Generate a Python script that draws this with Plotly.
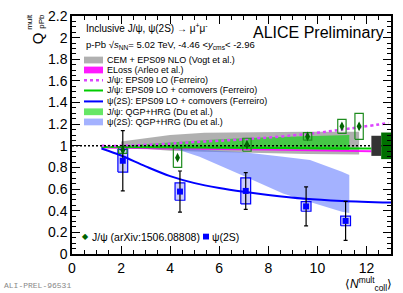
import plotly.graph_objects as go

# ---------------- data ----------------
jpsi_x = [2.07, 4.30, 7.13, 9.60, 11.00, 11.70]
jpsi_y = [0.96, 0.89, 1.01, 1.087, 1.18, 1.18]
jpsi_stat = [0.02, 0.02, 0.02, 0.02, 0.025, 0.03]
jpsi_sys = [0.03, 0.09, 0.06, 0.035, 0.065, 0.12]

psi_x = [2.07, 4.40, 7.08, 9.54, 11.15]
psi_y = [0.862, 0.577, 0.583, 0.44, 0.306]
psi_stat = [0.278, 0.19, 0.17, 0.18, 0.18]
psi_sys = [0.105, 0.08, 0.12, 0.045, 0.045]

# models
cem_x = [2.0, 3.0, 4.0, 5.4, 7.0, 9.6, 11.7]
cem_hi = [1.04, 1.07, 1.10, 1.12, 1.125, 1.13, 1.13]
cem_lo = [0.99, 0.97, 0.955, 0.945, 0.935, 0.925, 0.92]

eloss_x = [1.2, 4.0, 8.0, 12.2]
eloss_hi = [0.99, 0.982, 0.975, 0.96]
eloss_lo = [0.975, 0.965, 0.957, 0.94]

eps_x = [1.2, 2.0, 4.0, 5.0, 7.0, 9.6, 11.0, 12.9]
eps_y = [1.0, 1.0, 1.02, 1.035, 1.06, 1.11, 1.15, 1.21]

jcomov_x = [1.2, 4.0, 8.0, 12.2]
jcomov_y = [0.988, 0.985, 0.98, 0.975]

pcomov_x = [1.2, 2.0, 3.0, 4.0, 5.0, 6.0, 7.0, 8.0, 9.5, 11.0, 13.0]
pcomov_y = [0.975, 0.91, 0.81, 0.72, 0.655, 0.61, 0.575, 0.545, 0.51, 0.49, 0.475]

jdu_x = [2.0, 4.0, 6.0, 8.0, 10.0, 11.3]
jdu_hi = [1.0, 1.03, 1.06, 1.08, 1.095, 1.10]
jdu_lo = [0.98, 0.975, 0.97, 0.97, 0.965, 0.96]

pdu_x = [4.3, 5.2, 7.0, 8.6, 9.7, 11.0, 11.3]
pdu_hi = [0.975, 0.965, 0.94, 0.90, 0.87, 0.76, 0.73]
pdu_lo = [0.965, 0.90, 0.72, 0.56, 0.48, 0.39, 0.38]

glob_x = [12.4, 12.8]
glob_half = [0.093, 0.123]
glob_w = 0.2

x_ticks = [0, 2, 4, 6, 8, 10, 12]
x_labels = ["0", "2", "4", "6", "8", "10", "12"]
y_ticks = [0, 0.2, 0.4, 0.6, 0.8, 1.0, 1.2, 1.4, 1.6, 1.8, 2.0, 2.2]
y_labels = ["0", "0.2", "0.4", "0.6", "0.8", "1", "1.2", "1.4", "1.6", "1.8", "2", "2.2"]

legend_labels = [
    "CEM + EPS09 NLO (Vogt et al.)",
    "ELoss (Arleo et al.)",
    "J/ψ: EPS09 LO (Ferreiro)",
    "J/ψ: EPS09 LO + comovers (Ferreiro)",
    "ψ(2S): EPS09 LO + comovers (Ferreiro)",
    "J/ψ: QGP+HRG (Du et al.)",
    "ψ(2S): QGP+HRG (Du et al.)",
]

# ---------------- styles ----------------
C_GRAY = "rgba(150,150,150,0.75)"
C_MAG = "rgba(255,0,255,0.9)"
C_DOT = "#dd44ff"
C_GLINE = "#00cc00"
C_BLINE = "#0000ff"
C_GBAND = "rgba(0,215,0,0.6)"
C_BBAND = "rgba(90,115,255,0.55)"
C_JPSI = "#006400"
C_JBOX = "#1e8c1e"

FONT = "Liberation Sans, Arial, Helvetica, sans-serif"

fig = go.Figure()


def band(x, lo, hi, color):
    fig.add_trace(go.Scatter(x=list(x) + list(x)[::-1], y=list(hi) + list(lo)[::-1],
                             fill="toself", fillcolor=color, line=dict(width=0),
                             mode="lines", hoverinfo="skip", showlegend=False))


band(cem_x, cem_lo, cem_hi, C_GRAY)
band(jdu_x, jdu_lo, jdu_hi, C_GBAND)
band(eloss_x, eloss_lo, eloss_hi, C_MAG)
band(pdu_x, pdu_lo, pdu_hi, C_BBAND)

fig.add_trace(go.Scatter(x=jcomov_x, y=jcomov_y, mode="lines",
                         line=dict(color=C_GLINE, width=2), showlegend=False))
fig.add_trace(go.Scatter(x=eps_x, y=eps_y, mode="lines", line_shape="spline",
                         line=dict(color=C_DOT, width=2.5, dash="dot"), showlegend=False))
fig.add_trace(go.Scatter(x=pcomov_x, y=pcomov_y, mode="lines", line_shape="spline",
                         line=dict(color=C_BLINE, width=2), showlegend=False))

# unity line
fig.add_trace(go.Scatter(x=[0, 13], y=[1, 1], mode="lines",
                         line=dict(color="black", width=1.5, dash="2px,2px"), showlegend=False))


def boxes(xs, ys, ss, w):
    bx, by = [], []
    for x, y, s in zip(xs, ys, ss):
        bx += [x - w, x + w, x + w, x - w, x - w, None]
        by += [y - s, y - s, y + s, y + s, y - s, None]
    return bx, by


# global uncertainty boxes
gx, gy = boxes(glob_x, [1, 1], glob_half, glob_w)
fig.add_trace(go.Scatter(x=gx[:6], y=gy[:6], fill="toself", fillcolor="#333333",
                         line=dict(width=0), mode="lines", showlegend=False))
fig.add_trace(go.Scatter(x=gx[6:], y=gy[6:], fill="toself", fillcolor="#007000",
                         line=dict(width=0), mode="lines", showlegend=False))

# systematic boxes
bx, by = boxes(psi_x, psi_y, psi_sys, 0.2)
fig.add_trace(go.Scatter(x=bx, y=by, fill="toself", fillcolor="rgba(0,0,255,0.2)",
                         line=dict(color="#0000ff", width=1.2), mode="lines", showlegend=False))
bx, by = boxes(jpsi_x, jpsi_y, jpsi_sys, 0.17)
fig.add_trace(go.Scatter(x=bx, y=by, line=dict(color=C_JBOX, width=1.2),
                         mode="lines", showlegend=False))

# points
fig.add_trace(go.Scatter(x=psi_x, y=psi_y, mode="markers",
                         marker=dict(symbol="square", size=6, color="#0000ff"),
                         error_y=dict(type="data", array=psi_stat, color="black", thickness=1.2, width=2),
                         showlegend=False))
fig.add_trace(go.Scatter(x=jpsi_x, y=jpsi_y, mode="markers",
                         marker=dict(symbol="diamond-tall", size=7, color=C_JPSI),
                         error_y=dict(type="data", array=jpsi_stat, color=C_JPSI, thickness=1, width=0),
                         showlegend=False))

# ---------------- layout ----------------
L, R, T, B = 72, 391, 8, 254
W, H = 403, 293


def px(xp):
    return (xp - L) / (R - L)


def py(yp):
    return (B - yp) / (B - T)


shapes = []
ann = []


def text(x, y, s, size, xa="left", ya="middle", color="black", family=FONT, angle=0):
    ann.append(dict(xref="paper", yref="paper", x=px(x), y=py(y), text=s,
                    xanchor=xa, yanchor=ya, showarrow=False, textangle=angle,
                    font=dict(size=size, family=family, color=color)))


leg_y = [53.5, 63.8, 74.3, 85.0, 96.3, 107.0, 117.5]
sw_x0, sw_x1 = 84, 103
sw_kind = [("band", C_GRAY), ("band", C_MAG), ("dot", C_DOT), ("line", C_GLINE),
           ("line", C_BLINE), ("band", C_GBAND), ("band", C_BBAND)]
for yy, (kind, col), lab in zip(leg_y, sw_kind, legend_labels):
    if kind == "band":
        shapes.append(dict(type="rect", xref="paper", yref="paper",
                           x0=px(sw_x0), x1=px(sw_x1), y0=py(yy + 3.5), y1=py(yy - 3.5),
                           fillcolor=col, line=dict(width=0)))
    else:
        shapes.append(dict(type="line", xref="paper", yref="paper",
                           x0=px(sw_x0), x1=px(sw_x1), y0=py(yy), y1=py(yy),
                           line=dict(color=col, width=2.5 if kind == "dot" else 2,
                                     dash="dot" if kind == "dot" else "solid")))
    text(105, yy, lab, 9)

text(84, 20, "Inclusive J/ψ, ψ(2S) → μ<sup>+</sup>μ<sup>-</sup>", 10)
text(84, 38, "p-Pb √<i>s</i><sub>NN</sub>= 5.02 TeV, -4.46 &lt;<i>y</i><sub>cms</sub>&lt; -2.96", 9.5)
text(386, 25, "ALICE Preliminary", 16, xa="right")

# bottom legend
text(85, 236, "◆", 8, xa="center", color=C_JPSI, family="DejaVu Sans")
text(90, 236, "J/ψ (arXiv:1506.08808)", 10.5)
shapes.append(dict(type="rect", xref="paper", yref="paper",
                   x0=px(203), x1=px(209), y0=py(239), y1=py(233),
                   fillcolor="#0000ff", line=dict(width=0)))
text(210, 236, "ψ(2S)", 10.5)

# axis titles
text(394, 285, "⟨<i>N</i><sup>mult</sup><sub>coll</sub>⟩", 12, xa="right")
text(37, 31, "Q", 15, xa="center", angle=-90)
text(30, 14, "mult", 8, xa="center", angle=-90)
text(42, 14, "pPb", 8, xa="center", angle=-90)
text(2, 287, "ALI-PREL-96531", 8, color="#888888", family="Liberation Mono, Courier New, monospace")

axis_common = dict(showgrid=False, zeroline=False, showline=True, linecolor="black", linewidth=1.5,
                   ticks="inside", tickcolor="black", tickwidth=1, mirror="allticks",
                   tickfont=dict(size=14, family=FONT, color="black"))

fig.update_layout(
    width=W, height=H,
    margin=dict(l=L, r=W - R, t=T, b=H - B),
    paper_bgcolor="white", plot_bgcolor="white",
    showlegend=False,
    xaxis=dict(range=[0, 13], tickvals=x_ticks, ticktext=x_labels, ticklen=8,
               minor=dict(dtick=0.5, ticks="inside", ticklen=4, tickcolor="black"),
               **axis_common),
    yaxis=dict(range=[0, 2.2], tickvals=y_ticks, ticktext=y_labels, ticklen=8,
               minor=dict(dtick=0.05, ticks="inside", ticklen=4, tickcolor="black"),
               **axis_common),
    shapes=shapes, annotations=ann,
)

fig.write_html("out.html", config={"displayModeBar": False},
               post_script="document.body.style.margin='0';document.body.style.padding='0';")
